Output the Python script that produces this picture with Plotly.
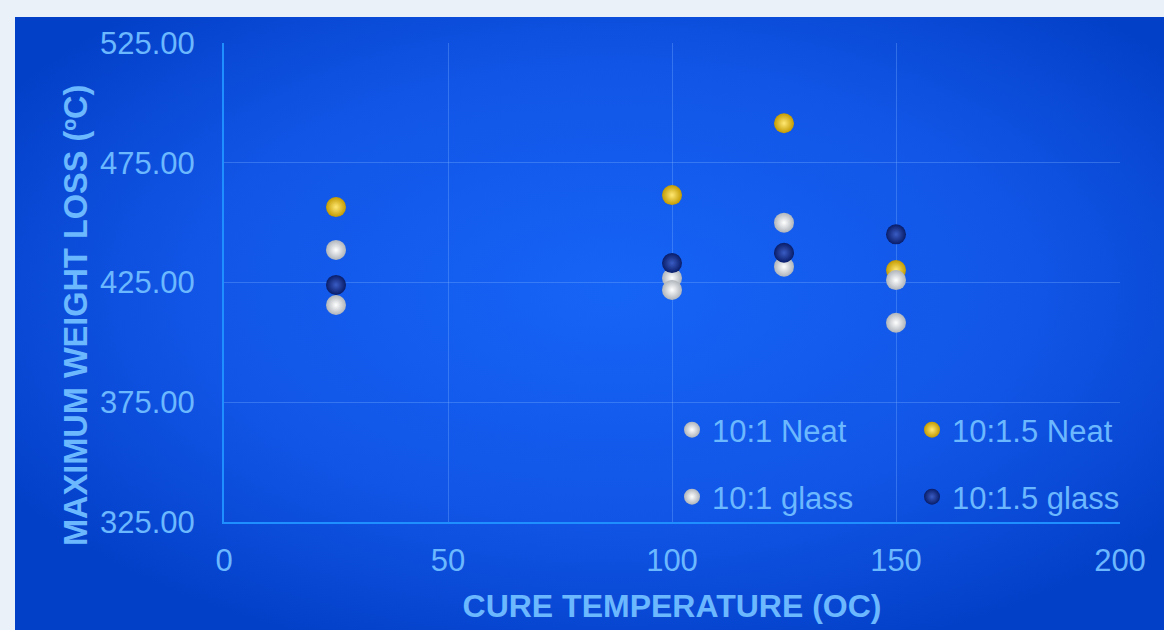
import base64
import plotly.graph_objects as go

# Cure temperatures (°C) and peak weight-loss temperatures per formulation
cure_temp = [25, 100, 125, 150]
neat_10_1 = [438.6, 426.9, 450.0, 408.2]
neat_10_15 = [456.5, 461.5, 491.5, 430.2]
glass_10_1 = [415.6, 421.9, 431.6, 426.0]
glass_10_15 = [424.0, 433.1, 437.4, 445.1]

series_names = ["10:1 Neat", "10:1.5 Neat", "10:1 glass", "10:1.5 glass"]
series_values = [neat_10_1, neat_10_15, glass_10_1, glass_10_15]
# (edge colour, highlight colour) for the sphere-like markers
series_colors = [
    ("#aeb4bb", "#ffffff"),
    ("#c39a00", "#ffe873"),
    ("#aeb4bb", "#ffffff"),
    ("#081c68", "#3a5cc4"),
]
series_legend = ["legend", "legend", "legend2", "legend2"]

x_ticks = [0, 50, 100, 150, 200]
y_ticks = [325, 375, 425, 475, 525]

W, H = 1164, 630
ML, MR, MT, MB = 224, 44, 43, 108
PW, PH = W - ML - MR, H - MT - MB

label_color = "#6cb8ff"
font_family = "Liberation Sans, Arial, sans-serif"

# Radial blue backdrop of the chart panel
panel_svg = (
    '<svg xmlns="http://www.w3.org/2000/svg" width="1149" height="613" '
    'preserveAspectRatio="none" viewBox="0 0 1149 613">'
    '<defs><radialGradient id="g" cx="0.52" cy="0.45" r="0.62">'
    '<stop offset="0" stop-color="#1664f6"/>'
    '<stop offset="0.6" stop-color="#1155e6"/>'
    '<stop offset="1" stop-color="#0340c8"/>'
    '</radialGradient></defs>'
    '<rect width="1149" height="613" fill="url(#g)"/></svg>'
)
panel_src = "data:image/svg+xml;base64," + base64.b64encode(panel_svg.encode()).decode()

fig = go.Figure()

for name, vals, (edge, hi), leg in zip(series_names, series_values, series_colors, series_legend):
    fig.add_trace(go.Scatter(
        x=cure_temp,
        y=vals,
        mode="markers",
        name=name,
        legend=leg,
        marker=dict(
            size=20,
            color=edge,
            gradient=dict(type="radial", color=hi),
            line=dict(width=0),
        ),
    ))

panel_x0 = (15 - ML) / PW
panel_y1 = (MT + PH - 17) / PH

legend_common = dict(
    orientation="h",
    xanchor="left", yanchor="middle",
    bgcolor="rgba(0,0,0,0)",
    entrywidth=195,
    entrywidthmode="pixels",
    font=dict(size=31, color=label_color),
    itemwidth=30,
)

fig.update_layout(
    width=W,
    height=H,
    margin=dict(l=ML, r=MR, t=MT, b=MB, autoexpand=False),
    paper_bgcolor="#ebf1f8",
    plot_bgcolor="rgba(0,0,0,0)",
    font=dict(family=font_family, size=31, color=label_color),
    images=[dict(
        source=panel_src,
        xref="paper", yref="paper",
        x=panel_x0, y=panel_y1,
        sizex=(W - 15) / PW, sizey=(H - 17) / PH,
        xanchor="left", yanchor="top",
        sizing="stretch", layer="below",
    )],
    xaxis=dict(
        range=[0, 200],
        tickvals=x_ticks,
        ticktext=[str(v) for v in x_ticks],
        showgrid=True,
        gridcolor="rgba(120,175,255,0.35)",
        gridwidth=1,
        zeroline=False,
        showline=True,
        linecolor="#1f8fff",
        linewidth=2,
        ticks="outside",
        ticklen=10,
        tickcolor="rgba(0,0,0,0)",
        tickfont=dict(size=31, color=label_color),
        automargin=False,
        title=dict(
            text="<b>CURE TEMPERATURE (OC)</b>",
            font=dict(size=32, color=label_color),
            standoff=17,
        ),
    ),
    yaxis=dict(
        range=[325, 525],
        tickvals=y_ticks,
        ticktext=[f"{v:.2f}" for v in y_ticks],
        showgrid=True,
        gridcolor="rgba(120,175,255,0.35)",
        gridwidth=1,
        zeroline=False,
        showline=True,
        linecolor="#1f8fff",
        linewidth=2,
        ticks="outside",
        ticklen=21,
        tickcolor="rgba(0,0,0,0)",
        tickfont=dict(size=31, color=label_color),
        automargin=False,
    ),
    annotations=[dict(
        text="<b>MAXIMUM WEIGHT LOSS (ºC)</b>",
        xref="paper", yref="paper",
        x=(76 - ML) / PW, y=(MT + PH - 316) / PH,
        xanchor="center", yanchor="middle",
        textangle=-90,
        showarrow=False,
        font=dict(size=32.5, color=label_color),
    )],
    legend=dict(legend_common, x=(672 - ML) / PW, y=(MT + PH - 430) / PH),
    legend2=dict(legend_common, x=(672 - ML) / PW, y=(MT + PH - 497) / PH),
    showlegend=True,
)

fig.write_html("out.html")
